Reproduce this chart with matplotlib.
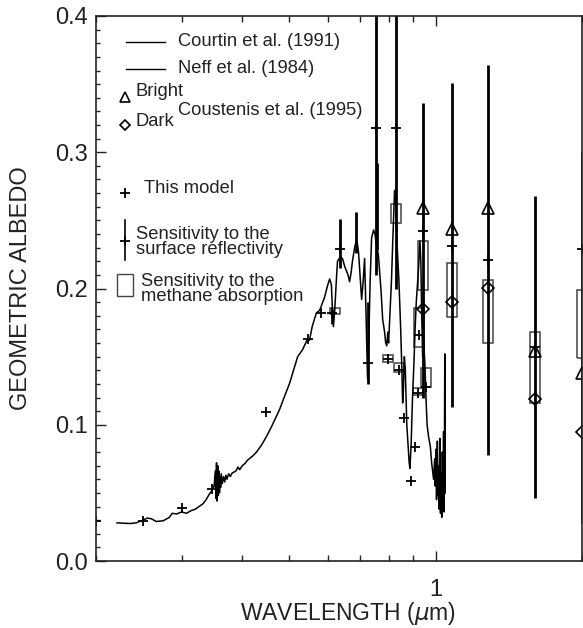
import numpy as np
import matplotlib.pyplot as plt
from matplotlib.patches import Rectangle
from matplotlib.ticker import FixedLocator, NullFormatter, FixedFormatter

plt.rcParams['font.family'] = ['Liberation Sans', 'DejaVu Sans']
plt.rcParams['mathtext.fontset'] = 'dejavusans'

# Courtin et al. (1991) -- UV part of the geometric albedo spectrum
courtin_wl = [0.221, 0.235, 0.242, 0.250, 0.255, 0.260, 0.266, 0.275, 0.283, 0.287,
              0.293, 0.300, 0.307, 0.314, 0.320, 0.326, 0.332, 0.337, 0.342, 0.347, 0.350]
courtin_alb = [0.028, 0.0275, 0.028, 0.030, 0.0315, 0.031, 0.029, 0.0295, 0.032, 0.035,
               0.0345, 0.036, 0.035, 0.037, 0.038, 0.040, 0.042, 0.045, 0.049, 0.052, 0.055]

# Neff et al. (1984) -- visible / near-IR part
neff_wl = [0.350, 0.352, 0.353, 0.354, 0.355, 0.356, 0.357, 0.358, 0.359, 0.360,
           0.361, 0.362, 0.364, 0.366, 0.368, 0.370, 0.372, 0.375, 0.378, 0.381,
           0.388, 0.392, 0.395, 0.400, 0.405, 0.410, 0.420, 0.428, 0.438, 0.448,
           0.460, 0.477, 0.490, 0.500, 0.510, 0.520, 0.532, 0.545, 0.550, 0.557,
           0.568, 0.577, 0.590, 0.600, 0.605, 0.610, 0.613, 0.616, 0.620, 0.625,
           0.628, 0.636, 0.643, 0.650, 0.655, 0.660, 0.665, 0.670, 0.674, 0.681,
           0.687, 0.690, 0.694, 0.700, 0.704, 0.709, 0.714, 0.719, 0.724, 0.728,
           0.733, 0.738, 0.745, 0.750, 0.755, 0.762, 0.767, 0.772, 0.778, 0.785,
           0.789, 0.793, 0.797, 0.800, 0.804, 0.811, 0.816, 0.823, 0.828, 0.832,
           0.840, 0.847, 0.852, 0.855, 0.858, 0.862, 0.866, 0.872, 0.878, 0.882,
           0.885, 0.890, 0.896, 0.902, 0.907, 0.912, 0.918, 0.922, 0.928, 0.932,
           0.936, 0.940, 0.945, 0.950, 0.955, 0.960, 0.967, 0.975, 0.981, 0.990,
           0.995, 0.998, 1.001, 1.004, 1.008, 1.011, 1.014, 1.017, 1.020, 1.023,
           1.026, 1.029, 1.032, 1.035, 1.038, 1.041, 1.044, 1.046]
neff_alb = [0.055, 0.066, 0.046, 0.072, 0.044, 0.070, 0.048, 0.066, 0.050, 0.062,
            0.054, 0.064, 0.057, 0.062, 0.058, 0.063, 0.060, 0.064, 0.062, 0.0645,
            0.066, 0.069, 0.067, 0.070, 0.0715, 0.074, 0.077, 0.080, 0.085, 0.091,
            0.099, 0.111, 0.122, 0.130, 0.140, 0.150, 0.155, 0.163, 0.162, 0.172,
            0.182, 0.184, 0.193, 0.203, 0.207, 0.203, 0.185, 0.172, 0.185, 0.208,
            0.220, 0.223, 0.222, 0.216, 0.213, 0.210, 0.205, 0.212, 0.220, 0.230,
            0.236, 0.233, 0.226, 0.205, 0.192, 0.205, 0.222, 0.180, 0.134, 0.160,
            0.205, 0.237, 0.243, 0.240, 0.232, 0.225, 0.211, 0.198, 0.177, 0.168,
            0.160, 0.158, 0.168, 0.160, 0.177, 0.206, 0.235, 0.272, 0.262, 0.235,
            0.206, 0.171, 0.140, 0.116, 0.125, 0.150, 0.140, 0.100, 0.083, 0.072,
            0.068, 0.085, 0.120, 0.145, 0.170, 0.190, 0.205, 0.215, 0.235, 0.220,
            0.180, 0.150, 0.160, 0.145, 0.120, 0.100, 0.091, 0.084, 0.072, 0.060,
            0.075, 0.055, 0.082, 0.045, 0.088, 0.048, 0.070, 0.038, 0.090, 0.035,
            0.065, 0.032, 0.080, 0.040, 0.095, 0.036, 0.152, 0.050]

# this model
model_wl = [0.200, 0.250, 0.300, 0.347, 0.448, 0.547, 0.580, 0.613, 0.634, 0.724,
            0.752, 0.796, 0.827, 0.839, 0.859, 0.888, 0.905, 0.918, 0.922, 0.940,
            0.954, 1.079, 1.28, 1.60, 2.0]
model_alb = [0.029, 0.029, 0.039, 0.053, 0.109, 0.163, 0.182, 0.182, 0.229, 0.145,
             0.318, 0.148, 0.318, 0.140, 0.105, 0.059, 0.0835, 0.123, 0.166, 0.242,
             0.128, 0.2315, 0.221, 0.157, 0.229]

# sensitivity to the surface reflectivity (vertical bars)
surf_wl = [0.613, 0.634, 0.687, 0.724, 0.752, 0.758, 0.827, 0.940, 1.079, 1.28, 1.60, 2.0]
surf_lo = [0.174, 0.215, 0.226, 0.130, 0.210, 0.228, 0.200, 0.120, 0.113, 0.078, 0.046, 0.028]
surf_hi = [0.185, 0.251, 0.256, 0.190, 0.450, 0.292, 0.450, 0.336, 0.351, 0.364, 0.268, 0.300]

# sensitivity to the methane absorption (boxes)
ch4_wl = [0.620, 0.796, 0.827, 0.839, 0.918, 0.922, 0.940, 0.954, 1.079, 1.28, 1.60, 2.0]
ch4_lo = [0.181, 0.146, 0.248, 0.139, 0.122, 0.157, 0.199, 0.128, 0.179, 0.160, 0.116, 0.149]
ch4_hi = [0.186, 0.151, 0.262, 0.145, 0.127, 0.186, 0.235, 0.142, 0.219, 0.206, 0.168, 0.199]

# Coustenis et al. (1995)
cous_wl = [0.940, 1.079, 1.28, 1.60, 2.0]
bright_alb = [0.259, 0.244, 0.259, 0.154, 0.138]
dark_alb = [0.185, 0.190, 0.2007, 0.119, 0.0945]

txt = '#222222'
fig = plt.figure(figsize=(5.83, 6.28), dpi=100)
ax = fig.add_axes([96 / 583, 1 - 561 / 628, 486 / 583, 545 / 628])

ax.plot(courtin_wl, courtin_alb, color='k', lw=1.1)
ax.plot(neff_wl, neff_alb, color='k', lw=1.1)

for w, lo, hi in zip(surf_wl, surf_lo, surf_hi):
    ax.plot([w, w], [lo, hi], color='k', lw=2.0, solid_capstyle='butt')

half = 10 ** (5 / 485)  # box half width, about 5 px on the log axis
for w, lo, hi in zip(ch4_wl, ch4_lo, ch4_hi):
    ax.add_patch(Rectangle((w / half, lo), w * half - w / half, hi - lo,
                           fill=False, ec='#444444', lw=1.1))

ax.plot(model_wl, model_alb, ls='none', marker='+', ms=7.5, mew=1.3, color='k')
ax.plot(cous_wl, bright_alb, ls='none', marker='^', ms=8, mfc='none', mec='k', mew=1.2)
ax.plot(cous_wl, dark_alb, ls='none', marker='D', ms=6, mfc='none', mec='k', mew=1.2)

ax.set_xscale('log')
ax.set_xlim(0.2, 2.0)
ax.set_ylim(0.0, 0.4)
ax.xaxis.set_major_locator(FixedLocator([1.0]))
ax.xaxis.set_major_formatter(FixedFormatter(['1']))
ax.xaxis.set_minor_locator(FixedLocator([0.2, 0.3, 0.4, 0.5, 0.6, 0.7, 0.8, 0.9, 2.0]))
ax.xaxis.set_minor_formatter(NullFormatter())
ax.yaxis.set_major_locator(FixedLocator([0.0, 0.1, 0.2, 0.3, 0.4]))
ax.yaxis.set_major_formatter(FixedFormatter(['0.0', '0.1', '0.2', '0.3', '0.4']))
ax.yaxis.set_minor_locator(FixedLocator(np.arange(0, 0.401, 0.01)))

ax.tick_params(axis='both', which='both', direction='in', color=txt, width=1.0)
ax.tick_params(axis='x', which='both', top=True, bottom=True)
ax.tick_params(axis='x', which='major', length=7.5, pad=13, labelsize=17, labelcolor=txt)
ax.tick_params(axis='x', which='minor', length=4)
ax.tick_params(axis='y', which='both', left=True, right=False)
ax.tick_params(axis='y', which='major', length=7.5, pad=6, labelsize=17, labelcolor=txt)
ax.tick_params(axis='y', which='minor', length=3)
for s in ax.spines.values():
    s.set_color(txt)
    s.set_linewidth(1.2)

ax.set_xlabel(r'WAVELENGTH ($\mu$m)', fontsize=16.5, color=txt)
ax.xaxis.set_label_coords(0.519, -0.072)
ax.set_ylabel('GEOMETRIC ALBEDO', fontsize=17, color=txt)
ax.yaxis.set_label_coords(-0.132, 0.5)

# legend drawn by hand, in axes fraction
tr = ax.transAxes
lf = 13.2
ax.plot([0.062, 0.142], [0.9523, 0.9523], color='k', lw=1.0, transform=tr)
ax.text(0.169, 0.9523, 'Courtin et al. (1991)', fontsize=lf, color=txt, va='center', transform=tr)
ax.plot([0.062, 0.142], [0.9028, 0.9028], color='k', lw=1.0, transform=tr)
ax.text(0.169, 0.9028, 'Neff et al. (1984)', fontsize=lf, color=txt, va='center', transform=tr)
ax.plot([0.0597], [0.851], marker='^', ms=7, mfc='none', mec='k', mew=1.2, transform=tr)
ax.text(0.082, 0.862, 'Bright', fontsize=lf, color=txt, va='center', transform=tr)
ax.text(0.169, 0.8275, 'Coustenis et al. (1995)', fontsize=lf, color=txt, va='center', transform=tr)
ax.plot([0.0597], [0.800], marker='D', ms=5.5, mfc='none', mec='k', mew=1.2, transform=tr)
ax.text(0.082, 0.807, 'Dark', fontsize=lf, color=txt, va='center', transform=tr)
ax.plot([0.0597], [0.675], marker='+', ms=7.5, mew=1.3, color='k', transform=tr)
ax.text(0.0988, 0.684, 'This model', fontsize=lf, color=txt, va='center', transform=tr)
ax.plot([0.0597, 0.0597], [0.5523, 0.6257], color='k', lw=1.2, transform=tr)
ax.plot([0.0597], [0.587], marker='+', ms=7.5, mew=1.3, color='k', transform=tr)
ax.text(0.082, 0.585, 'Sensitivity to the\nsurface reflectivity', fontsize=lf, color=txt,
        va='center', linespacing=0.8, transform=tr)
ax.add_patch(Rectangle((0.0432, 0.4862), 0.033, 0.0404, fill=False, ec='#444444', lw=1.0,
                       transform=tr))
ax.text(0.0926, 0.499, 'Sensitivity to the\nmethane absorption', fontsize=lf, color=txt,
        va='center', linespacing=0.8, transform=tr)

fig.savefig('out.png', dpi=100)
